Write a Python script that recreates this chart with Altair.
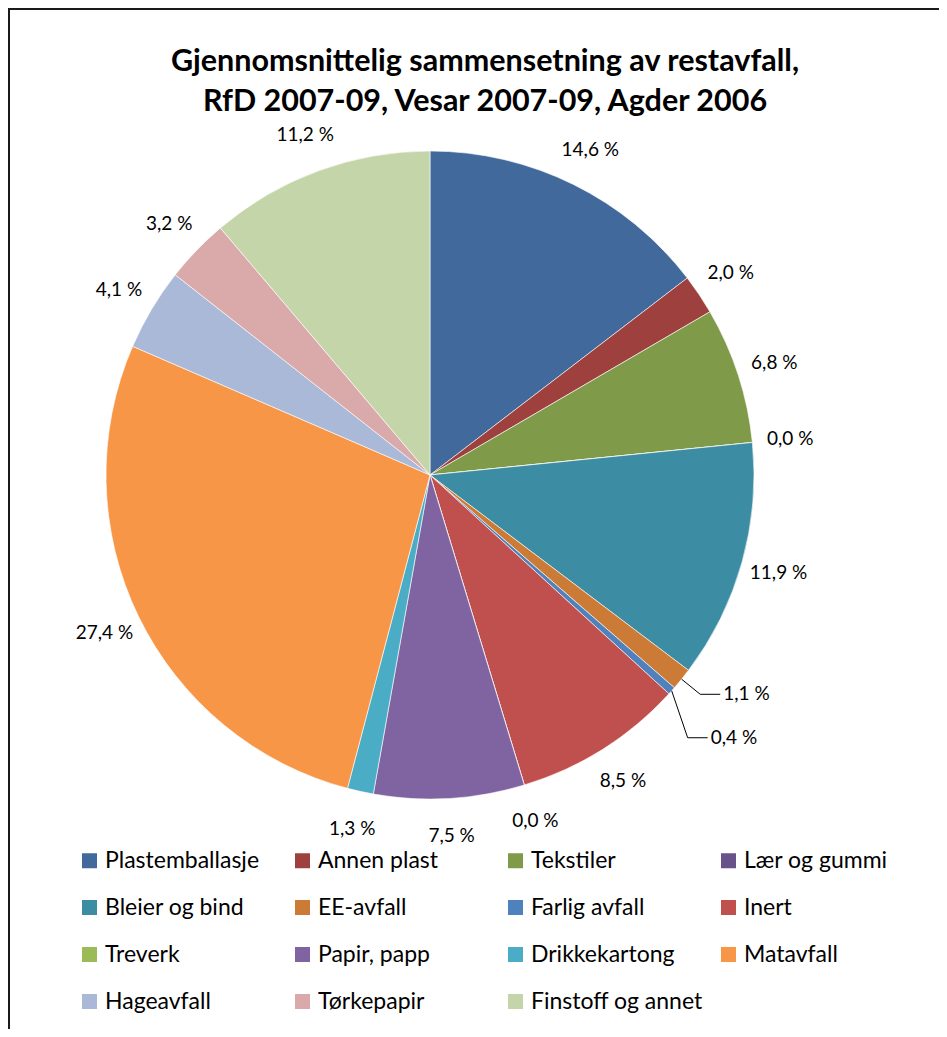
import math
import altair as alt
import pandas as pd

# ---------------- data ----------------
categories = [
    "Plastemballasje", "Annen plast", "Tekstiler", "Lær og gummi",
    "Bleier og bind", "EE-avfall", "Farlig avfall", "Inert",
    "Treverk", "Papir, papp", "Drikkekartong", "Matavfall",
    "Hageavfall", "Tørkepapir", "Finstoff og annet",
]
values = [14.6, 2.0, 6.8, 0.0, 11.9, 1.1, 0.4, 8.5, 0.0, 7.5, 1.3, 27.4, 4.1, 3.2, 11.2]
colors = [
    "#41699C", "#9E413E", "#7F9A48", "#69528A", "#3C8DA3", "#CB7B36",
    "#4F81BD", "#C0504D", "#9BBB59", "#8064A2", "#4BACC6", "#F79646",
    "#AAB9D7", "#D9AAA9", "#C5D5AA",
]
title_lines = [
    "Gjennomsnittelig sammensetning av restavfall,",
    "RfD 2007-09, Vesar 2007-09, Agder 2006",
]
leader_cats = ["EE-avfall", "Farlig avfall"]

# ---------------- layout / style ----------------
W, H = 931, 1021
CX, CY, R = 422, 467, 324
LABEL_R = 362
FONT = "Lato"
LABEL_SIZE = 19
# elbow radius, elbow angle offset (deg), horizontal run (px)
leader_style = {"EE-avfall": (348, 0.0, 20), "Farlig avfall": (368, 3.8, 20)}

df = pd.DataFrame({"cat": categories, "value": values, "idx": range(len(categories))})
df["label"] = df["value"].map(lambda v: f"{v:.1f} %".replace(".", ","))
df["mainlabel"] = [("" if c in leader_cats else l) for c, l in zip(df["cat"], df["label"])]
total = df["value"].sum()
df["mid"] = (df["value"].cumsum() - df["value"] / 2) / total * 2 * math.pi

line_rows, text_rows = [], []
for _, r in df[df["cat"].isin(leader_cats)].iterrows():
    er, dth, run = leader_style[r["cat"]]
    a = r["mid"]
    p0 = (CX + R * math.sin(a), CY - R * math.cos(a))
    a1 = a + math.radians(dth)
    p1 = (CX + er * math.sin(a1), CY - er * math.cos(a1))
    p2 = (p1[0] + run, p1[1])
    for k, p in enumerate([p0, p1, p2]):
        line_rows.append({"cat": r["cat"], "step": k, "x": p[0], "y": p[1]})
    text_rows.append({"cat": r["cat"], "label": r["label"], "x": p2[0] + 3, "y": p2[1]})
lines_df = pd.DataFrame(line_rows)
ltext_df = pd.DataFrame(text_rows)

xs = alt.Scale(domain=[0, W], range=[0, W], nice=False, zero=False)
ys = alt.Scale(domain=[0, H], range=[0, H], nice=False, zero=False)

base = alt.Chart(df)

arcs = base.mark_arc(radius=R, stroke="white", strokeWidth=0.6).encode(
    theta=alt.Theta("value:Q", stack=True),
    color=alt.Color(
        "cat:N",
        scale=alt.Scale(domain=categories, range=colors),
        legend=alt.Legend(
            orient="none", legendX=70, legendY=841, columns=4, direction="horizontal",
            title=None,
            symbolType="square", symbolSize=225, symbolStrokeWidth=0, symbolOpacity=1,
            labelFont=FONT, labelFontSize=23, labelColor="black", labelOffset=4,
            labelLimit=400, gridAlign="all", columnPadding=14, rowPadding=23, padding=0,
        ),
    ),
    order=alt.Order("idx:Q"),
    x=alt.value(CX), y=alt.value(CY),
)

labels = base.mark_text(radius=LABEL_R, font=FONT, fontSize=LABEL_SIZE, color="black").encode(
    theta=alt.Theta("value:Q", stack=True),
    detail="cat:N",
    order=alt.Order("idx:Q"),
    text="mainlabel:N",
    x=alt.value(CX), y=alt.value(CY),
)

leader_lines = alt.Chart(lines_df).mark_line(color="black", strokeWidth=1).encode(
    x=alt.X("x:Q", scale=xs, axis=None),
    y=alt.Y("y:Q", scale=ys, axis=None),
    detail="cat:N",
    order="step:Q",
)
leader_text = alt.Chart(ltext_df).mark_text(
    font=FONT, fontSize=LABEL_SIZE, color="black", align="left", baseline="middle"
).encode(
    x=alt.X("x:Q", scale=xs, axis=None),
    y=alt.Y("y:Q", scale=ys, axis=None),
    text="label:N",
)

title = alt.Chart(pd.DataFrame({"t": ["\n".join(title_lines)]})).mark_text(
    font=FONT, fontWeight="bold", fontSize=30.5, lineBreak="\n", lineHeight=40,
    align="center", baseline="middle", color="black",
).encode(text="t:N", x=alt.value(477), y=alt.value(54))

frame_src = pd.DataFrame({"k": [0]})
frame_left = alt.Chart(frame_src).mark_rule(color="#1a1a1a", strokeWidth=2).encode(
    x=alt.value(1), y=alt.value(0), y2=alt.value(H)
)
frame_top = alt.Chart(frame_src).mark_rule(color="#1a1a1a", strokeWidth=2).encode(
    y=alt.value(1), x=alt.value(0), x2=alt.value(W)
)

chart = alt.layer(
    arcs, labels, leader_lines, leader_text, title, frame_left, frame_top
).properties(
    width=W, height=H, autosize=alt.AutoSizeParams(type="none"), padding=0
).configure_view(stroke=None)

chart.save("out.html", embed_options={"renderer": "svg", "actions": False})
